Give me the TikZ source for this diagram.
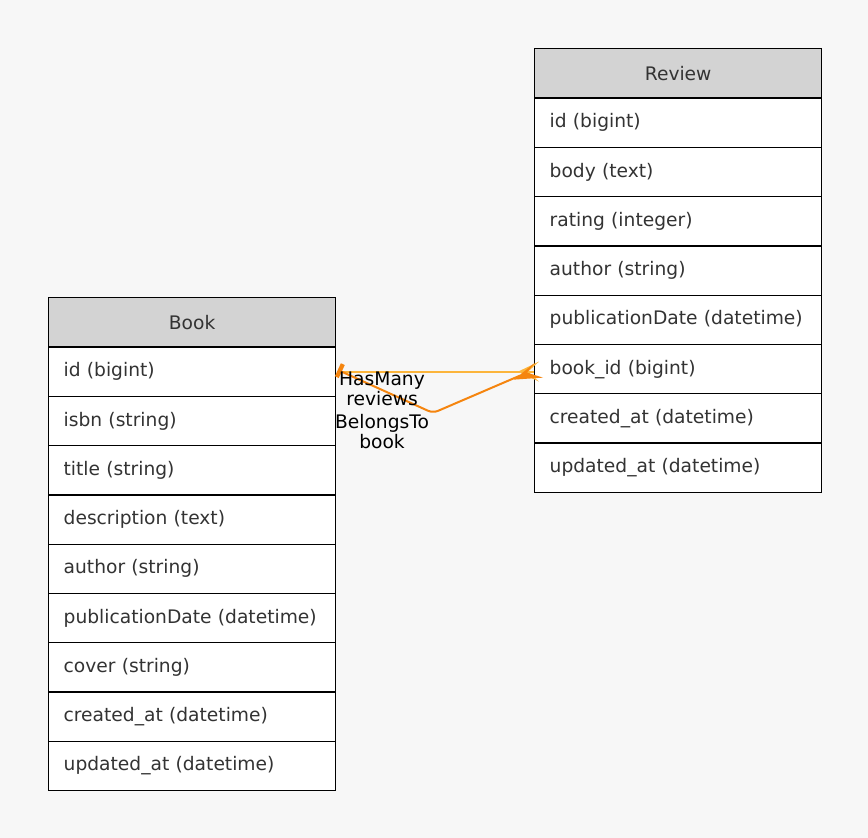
\documentclass[tikz,border=0pt]{standalone}
\usepackage{fontspec}
\setmainfont{DejaVu Sans}
\usetikzlibrary{calc}
\definecolor{bg}{HTML}{F7F7F7}
\definecolor{hdr}{HTML}{D3D3D3}
\definecolor{txt}{HTML}{333333}
\definecolor{amber}{HTML}{FCB53B}
\definecolor{dorange}{HTML}{F5850F}
\tikzset{
  cell/.style={draw=black, line width=1pt, fill=white, anchor=north west,
    minimum height=36.98pt, text width=192.75pt, inner xsep=11.25pt, inner ysep=0pt,
    align=left, text=txt, font=\fontsize{14pt}{16pt}\selectfont},
  head/.style={cell, fill=hdr, align=center},
  lbl/.style={align=center, text=black, inner sep=0pt, font=\fontsize{14pt}{15pt}\selectfont},
  amberline/.style={draw=amber, line width=1.5pt},
  orangeline/.style={draw=dorange, line width=1.5pt, rounded corners=4pt},
}
\begin{document}
\begin{tikzpicture}[x=0.75pt, y=-0.75pt]
\fill[bg] (0,0) rectangle (868,838);
\useasboundingbox (0,0) rectangle (868,838);
% Book table
\def\rh{49.3}
\node[head] (book) at (48,297) {Book};
\node[cell] (bid) at (48,297+\rh) {id (bigint)};
\node[cell] (bisbn) at (48,297+2*\rh) {isbn (string)};
\node[cell] (btitle) at (48,297+3*\rh) {title (string)};
\node[cell] (bdesc) at (48,297+4*\rh) {description (text)};
\node[cell] (bauthor) at (48,297+5*\rh) {author (string)};
\node[cell] (bpub) at (48,297+6*\rh) {publicationDate (datetime)};
\node[cell] (bcover) at (48,297+7*\rh) {cover (string)};
\node[cell] (bcreated) at (48,297+8*\rh) {created\_at (datetime)};
\node[cell] (bupdated) at (48,297+9*\rh) {updated\_at (datetime)};
% Review table
\node[head] (review) at (534,48) {Review};
\node[cell] (rid) at (534,48+\rh) {id (bigint)};
\node[cell] (rbody) at (534,48+2*\rh) {body (text)};
\node[cell] (rrating) at (534,48+3*\rh) {rating (integer)};
\node[cell] (rauthor) at (534,48+4*\rh) {author (string)};
\node[cell] (rpub) at (534,48+5*\rh) {publicationDate (datetime)};
\node[cell] (rbid) at (534,48+6*\rh) {book\_id (bigint)};
\node[cell] (rcreated) at (534,48+7*\rh) {created\_at (datetime)};
\node[cell] (rupdated) at (534,48+8*\rh) {updated\_at (datetime)};
% edges
\coordinate (bend) at (433,413);
\coordinate (rin) at (bid.east -| rbid.west);
% HasMany (amber)
\draw[amberline] ($(bid.east)+(3,0)$) -- ($(rin)+(-14,0)$);
\fill[amber] ($(rin)+(-16,0)$) -- ($(rin)+(5,-10)$) -- ($(rin)+(-6,0)$) -- ($(rin)+(5,10)$) -- cycle;
\draw[amberline] ($(rin)+(-8,0)$) -- (rin);
% BelongsTo (orange)
\draw[orangeline] ($(bid.east)+(3,-1)$) -- (bend) -- ($(rin)+(-14,4)$);
\draw[dorange, line width=3.2pt] ($(bid.east)+(6.5,-7.5)$) -- ($(bid.east)+(0.5,5.5)$);
\fill[dorange] ($(rin)+(-20,8)$) -- ($(rin)+(9,6)$) -- ($(rin)+(-7,1)$) -- ($(rin)+(1,-9)$) -- cycle;
% labels
\node[lbl] (l1) at (382,389) {HasMany\\reviews};
\node[lbl] (l2) at (382,432) {BelongsTo\\book};
\end{tikzpicture}
\end{document}
